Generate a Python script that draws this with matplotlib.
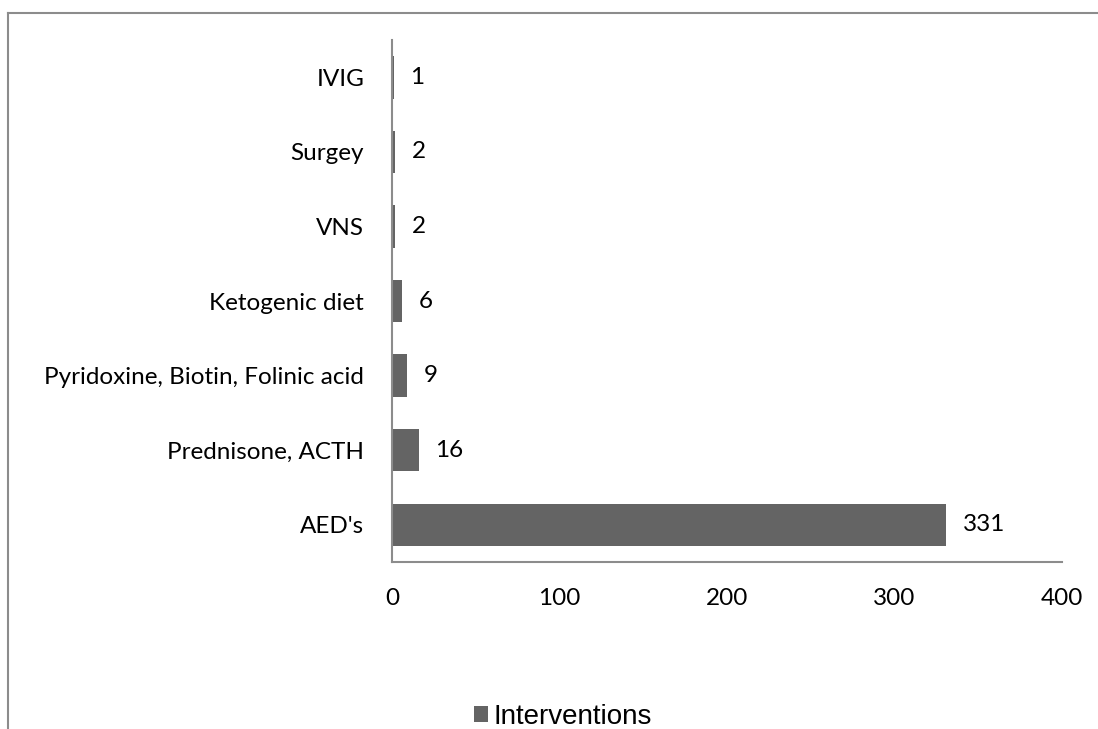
import matplotlib
matplotlib.use("Agg")
import matplotlib.pyplot as plt
from matplotlib.lines import Line2D

# Data
categories = ["AED's", "Prednisone, ACTH", "Pyridoxine, Biotin, Folinic acid",
              "Ketogenic diet", "VNS", "Surgey", "IVIG"]
values = [331, 16, 9, 6, 2, 2, 1]
xticks = [0, 100, 200, 300, 400]

bar_color = "#646464"
axis_color = "#8c8c8c"
FS = 17.5

fig = plt.figure(figsize=(10.98, 7.29), dpi=100)
ax = fig.add_axes([0.357, 0.229, 0.61, 0.716])

bars = ax.barh(range(len(categories)), values, height=0.57, color=bar_color,
               label="Interventions")

# Value labels
for i, v in enumerate(values):
    ax.annotate(str(v), xy=(v, i), xytext=(12, 0), textcoords="offset points",
                ha="left", va="center", fontsize=FS, family="Lato")

ax.set_xlim(0, 400)
ax.set_ylim(-0.5, len(categories) - 0.5)
ax.set_xticks(xticks)
ax.set_yticks(range(len(categories)))
ax.set_yticklabels(categories)

for lab in ax.get_xticklabels() + ax.get_yticklabels():
    lab.set_family("Lato")
    lab.set_fontsize(FS)

ax.tick_params(axis="both", length=0)
ax.tick_params(axis="y", pad=20)
ax.tick_params(axis="x", pad=19)

for s in ["top", "right"]:
    ax.spines[s].set_visible(False)
for s in ["left", "bottom"]:
    ax.spines[s].set_color(axis_color)
    ax.spines[s].set_linewidth(1.5)

# Legend at bottom
fig.legend(handles=[bars], labels=["Interventions"], loc="center",
           bbox_to_anchor=(0.513, 0.017), frameon=False, handlelength=0.5,
           handleheight=0.5, handletextpad=0.2,
           prop={"family": "Liberation Sans", "size": 20})

# Outer frame lines (chart area border)
fig.add_artist(Line2D([8 / 1098, 1.0], [1 - 13 / 729, 1 - 13 / 729],
                      transform=fig.transFigure, color=axis_color, lw=1.5))
fig.add_artist(Line2D([8 / 1098, 8 / 1098], [0, 1 - 13 / 729],
                      transform=fig.transFigure, color=axis_color, lw=1.5))

fig.savefig("out.png", dpi=100)
